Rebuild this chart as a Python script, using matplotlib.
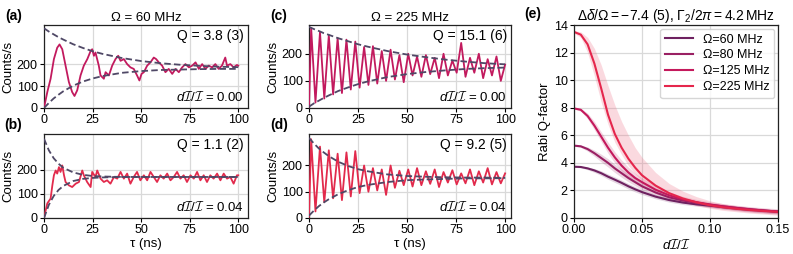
import matplotlib
matplotlib.use("Agg")
import matplotlib.pyplot as plt
import numpy as np

plt.rcParams['font.family'] = ['Liberation Sans', 'DejaVu Sans']
plt.rcParams['font.size'] = 9
plt.rcParams['mathtext.fontset'] = 'custom'
plt.rcParams['mathtext.rm'] = 'Liberation Sans'
plt.rcParams['mathtext.it'] = 'Liberation Sans:italic'
plt.rcParams['mathtext.cal'] = 'cmsy10'

# ---- time traces (tau in ns, counts/s) ----
t_a = [0, 1.7, 3.4, 5.1, 6.8, 8.0, 9.4, 11.1, 12.8, 14.5, 15.7, 17.1, 18.8, 20.5, 22.3, 24.0, 24.8, 25.7, 26.5, 28.2,
       29.1, 30.8, 31.7, 33.4, 35.1, 36.8, 38.2, 39.4, 41.1, 42.8, 44.5, 46.2, 47.9, 49.1, 50.2, 51.4, 53.1, 54.8, 56.5, 57.7,
       59.1, 60.8, 62.5, 64.2, 66.0, 67.7, 69.4, 71.1, 72.8, 74.6, 76.3, 78.0, 79.7, 81.4, 83.1, 84.8, 86.5, 88.2, 89.9, 91.6,
       93.3, 94.2, 95.9, 97.6, 99.3, 100]
c_a = [0, 73, 134, 224, 276, 291, 269, 194, 119, 73, 55, 81, 149, 194, 224, 261, 269, 239, 254, 194,
       149, 134, 164, 149, 194, 224, 239, 216, 224, 201, 186, 179, 149, 126, 156, 164, 194, 209, 231, 224,
       209, 194, 164, 179, 156, 179, 164, 186, 201, 186, 194, 209, 179, 201, 179, 194, 186, 201, 179, 194,
       231, 194, 201, 186, 197, 194]

t_b = [0, 0.9, 1.7, 3.4, 4.3, 5.1, 6.0, 6.8, 7.7, 8.5, 9.4, 10.3, 11.1, 12.8, 14.5, 16.3, 18.0, 19.7, 20.5, 22.2,
       24.0, 24.8, 26.5, 27.4, 29.1, 30.8, 32.5, 34.2, 36.0, 37.7, 39.4, 41.1, 42.8, 44.5, 46.2, 47.9, 49.6, 51.4, 53.1, 54.8,
       56.5, 58.2, 59.9, 61.6, 63.4, 65.1, 66.8, 68.5, 70.2, 71.9, 73.6, 75.4, 77.1, 78.8, 80.5, 82.2, 83.9, 85.6, 87.3, 89.1,
       90.8, 92.5, 94.2, 95.9, 97.6, 99.3, 100]
c_b = [0, 33, 61, 81, 136, 178, 198, 185, 212, 192, 219, 178, 150, 136, 129, 143, 150, 198, 178, 150,
       129, 192, 171, 198, 164, 150, 157, 143, 171, 164, 192, 164, 185, 143, 171, 192, 157, 178, 157, 192,
       171, 150, 178, 164, 185, 157, 171, 192, 164, 178, 150, 178, 164, 192, 157, 178, 150, 178, 164, 185,
       157, 185, 164, 171, 143, 178, 178]

t_cd = [0, 1.1, 3.3, 5.6, 7.8, 10.1, 12.3, 14.6, 16.8, 19.1, 21.3, 23.6, 25.8, 28.1, 30.3, 32.6, 34.8, 37.1, 39.3, 41.6,
        43.8, 46.1, 48.3, 50.6, 52.8, 55.1, 57.3, 59.6, 61.8, 64.1, 66.3, 68.6, 70.8, 73.1, 75.3, 77.6, 79.8, 82.1, 84.3, 86.6,
        88.8, 91.1, 93.3, 95.6, 97.8, 100]
c_c = [5, 295, 20, 280, 35, 268, 50, 258, 55, 252, 68, 245, 75, 225, 85, 228, 90, 210, 100, 215,
       105, 195, 95, 200, 120, 190, 115, 195, 125, 185, 110, 200, 120, 175, 130, 240, 115, 185, 130, 200,
       110, 180, 120, 190, 100, 160]
c_d = [5, 300, 25, 272, 60, 258, 75, 245, 68, 250, 82, 255, 95, 200, 100, 190, 105, 185, 88, 200,
       115, 180, 125, 185, 120, 190, 125, 178, 130, 185, 118, 175, 135, 182, 128, 170, 132, 185, 125, 178,
       135, 190, 128, 175, 132, 170]

# ---- decay envelopes ----
t_env = [0, 2.5, 5, 7.5, 10, 15, 20, 25, 30, 40, 50, 60, 70, 80, 90, 100]
up_a = [365, 350, 337, 324, 313, 292, 275, 260, 248, 229, 215, 205, 198, 193, 189, 187]
lo_a = [0, 23, 44, 61, 77, 102, 121, 135, 146, 161, 169, 174, 176, 178, 179, 179]
up_b = [330, 282, 249, 226, 209, 190, 180, 175, 173, 171, 171, 171, 171, 171, 171, 171]
lo_b = [0, 55, 92, 117, 134, 154, 163, 167, 169, 171, 171, 171, 171, 171, 171, 171]
up_c = [299, 291, 284, 276, 270, 257, 246, 235, 226, 210, 197, 187, 178, 171, 165, 161]
lo_c = [5, 17, 27, 37, 46, 63, 76, 88, 98, 114, 125, 133, 139, 144, 147, 149]
up_d = [305, 284, 265, 250, 236, 214, 198, 186, 178, 166, 160, 157, 155, 154, 154, 153]
lo_d = [9, 28, 45, 59, 71, 91, 106, 118, 126, 137, 144, 147, 149, 151, 151, 152]

# ---- Rabi Q-factor vs dI/I ----
dI = [0, 0.005, 0.01, 0.015, 0.02, 0.025, 0.03, 0.035, 0.04, 0.045, 0.05, 0.06, 0.07, 0.08, 0.09, 0.10, 0.11, 0.12,
      0.13, 0.14, 0.15]
q60 = [3.72, 3.7, 3.6, 3.45, 3.25, 3.0, 2.78, 2.55, 2.3, 2.08, 1.88, 1.55, 1.3, 1.12, 0.99, 0.89, 0.78, 0.68, 0.59, 0.52, 0.45]
w60 = [0.04, 0.06, 0.1, 0.14, 0.17, 0.19, 0.2, 0.2, 0.2, 0.19, 0.18, 0.16, 0.15, 0.14, 0.13, 0.13, 0.13, 0.13, 0.13, 0.13, 0.13]
q80 = [5.25, 5.2, 5.0, 4.7, 4.35, 4.0, 3.6, 3.25, 2.9, 2.6, 2.3, 1.85, 1.5, 1.27, 1.1, 0.96, 0.84, 0.73, 0.63, 0.54, 0.46]
w80 = [0.05, 0.08, 0.15, 0.22, 0.28, 0.3, 0.3, 0.3, 0.28, 0.26, 0.24, 0.2, 0.18, 0.16, 0.15, 0.15, 0.15, 0.15, 0.15, 0.15, 0.15]
q125 = [7.95, 7.85, 7.4, 6.7, 5.9, 5.1, 4.4, 3.8, 3.3, 2.9, 2.6, 2.05, 1.65, 1.35, 1.15, 0.98, 0.84, 0.72, 0.62, 0.54, 0.47]
w125 = [0.05, 0.1, 0.2, 0.3, 0.35, 0.4, 0.4, 0.4, 0.38, 0.35, 0.32, 0.28, 0.25, 0.22, 0.2, 0.2, 0.2, 0.2, 0.2, 0.2, 0.2]
q225 = [13.5, 13.3, 12.6, 11.2, 9.4, 7.5, 6.1, 5.1, 4.3, 3.65, 3.1, 2.35, 1.8, 1.42, 1.14, 0.92, 0.77, 0.66, 0.57, 0.5, 0.44]
hi225 = [13.6, 13.5, 13.1, 12.3, 11.1, 9.6, 8.2, 7.0, 6.0, 5.1, 4.4, 3.3, 2.5, 1.95, 1.55, 1.25, 1.03, 0.88, 0.76, 0.67, 0.6]
lo225 = [13.4, 13.1, 12.0, 10.3, 8.4, 6.8, 5.5, 4.6, 3.8, 3.2, 2.7, 2.0, 1.5, 1.15, 0.9, 0.7, 0.55, 0.45, 0.35, 0.28, 0.2]

col_mag = '#c21a5e'
col_red = '#e22a4c'
col_env = '#4f4866'
cols_e = ['#6e2160', '#9a2063', '#c4195c', '#e5264c']


def style(ax):
    ax.grid(True, color='#d9d9d9', lw=0.9)
    ax.set_axisbelow(True)
    for s in ax.spines.values():
        s.set_linewidth(0.9)
        s.set_color('#222222')
    ax.tick_params(direction='out', length=3, width=0.8, pad=1.5, labelsize=9)


fig = plt.figure(figsize=(7.93, 2.54), dpi=100)

L1, R1 = 44 / 793, 248 / 793
L2, R2 = 309 / 793, 511 / 793
T1, B1 = 1 - 25 / 254, 1 - 108 / 254
T2, B2 = 1 - 134 / 254, 1 - 218 / 254

panels = [
    ((L1, B1, R1 - L1, T1 - B1), t_a, c_a, col_mag, up_a, lo_a, 380, 105, 'Q = 3.8 (3)', '0.00', '(a)'),
    ((L1, B2, R1 - L1, T2 - B2), t_b, c_b, col_red, up_b, lo_b, 350, 105, 'Q = 1.1 (2)', '0.04', '(b)'),
    ((L2, B1, R2 - L2, T1 - B1), t_cd, c_c, col_mag, up_c, lo_c, 306, 103, 'Q = 15.1 (6)', '0.00', '(c)'),
    ((L2, B2, R2 - L2, T2 - B2), t_cd, c_d, col_red, up_d, lo_d, 320, 103, 'Q = 9.2 (5)', '0.04', '(d)'),
]

axes = []
for rect, t, c, col, up, lo, ytop, xr, qtxt, dtxt, lab in panels:
    ax = fig.add_axes(rect)
    style(ax)
    ax.plot(t, c, color=col, lw=1.3, zorder=3)
    ax.plot(t_env, up, color=col_env, lw=1.3, dashes=(3.6, 1.8), zorder=4)
    ax.plot(t_env, lo, color=col_env, lw=1.3, dashes=(3.6, 1.8), zorder=4)
    ax.set_xlim(0, xr)
    ax.set_ylim(0, ytop)
    ax.set_xticks([0, 25, 50, 75, 100])
    ax.set_yticks([0, 100, 200])
    ax.set_ylabel('Counts/s', labelpad=2, fontsize=9.5)
    ax.text(0.98, 0.95, qtxt, transform=ax.transAxes, ha='right', va='top', fontsize=10)
    ax.text(0.98, 0.05, r'$d\mathcal{I}/\mathcal{I}$ = ' + dtxt, transform=ax.transAxes,
            ha='right', va='bottom', fontsize=9.5)
    ax.text(-0.15, 1.02, lab, transform=ax.transAxes, ha='center', va='bottom',
            fontsize=10, fontweight='bold')
    axes.append(ax)

axes[0].set_title('Ω = 60 MHz', fontsize=9.5, pad=3)
axes[2].set_title('Ω = 225 MHz', fontsize=9.5, pad=3)
axes[1].set_xlabel('τ (ns)', labelpad=1, fontsize=9.5)
axes[3].set_xlabel('τ (ns)', labelpad=1, fontsize=9.5)

# ---- panel (e) ----
axe = fig.add_axes((574 / 793, B2, 204 / 793, (1 - 25 / 254) - B2))
style(axe)
dI_arr = np.array(dI)
series = [(q60, w60, 'Ω=60 MHz'), (q80, w80, 'Ω=80 MHz'), (q125, w125, 'Ω=125 MHz')]
for (q, w, name), col in zip(series, cols_e[:3]):
    q = np.array(q)
    w = np.array(w)
    axe.fill_between(dI_arr, q - w, q + w, color=col, alpha=0.18, lw=0)
    axe.plot(dI_arr, q, color=col, lw=1.5, label=name)
axe.fill_between(dI_arr, lo225, hi225, color='#ef6a82', alpha=0.25, lw=0)
axe.plot(dI_arr, q225, color=cols_e[3], lw=1.5, label='Ω=225 MHz')
axe.set_xlim(0, 0.15)
axe.set_ylim(0, 14)
axe.set_xticks([0, 0.05, 0.10, 0.15])
axe.set_xticklabels(['0.00', '0.05', '0.10', '0.15'])
axe.set_yticks(range(0, 15, 2))
axe.set_xlabel(r'$d\mathcal{I}/\mathcal{I}$', labelpad=1, fontsize=9.5)
axe.set_ylabel('Rabi Q-factor', labelpad=2, fontsize=9.5)
axe.set_title(r'$\Delta\delta/\Omega = -7.4\ (5)$, $\Gamma_2/2\pi = 4.2\,$MHz', fontsize=10, pad=3)
axe.text(-0.2, 1.02, '(e)', transform=axe.transAxes, ha='center', va='bottom',
         fontsize=10, fontweight='bold')
leg = axe.legend(loc='upper right', fontsize=9, frameon=True, borderaxespad=0.3,
                 handlelength=2.2, labelspacing=0.3, fancybox=True)
leg.get_frame().set_edgecolor('#cccccc')

fig.savefig('out.png', dpi=100)
